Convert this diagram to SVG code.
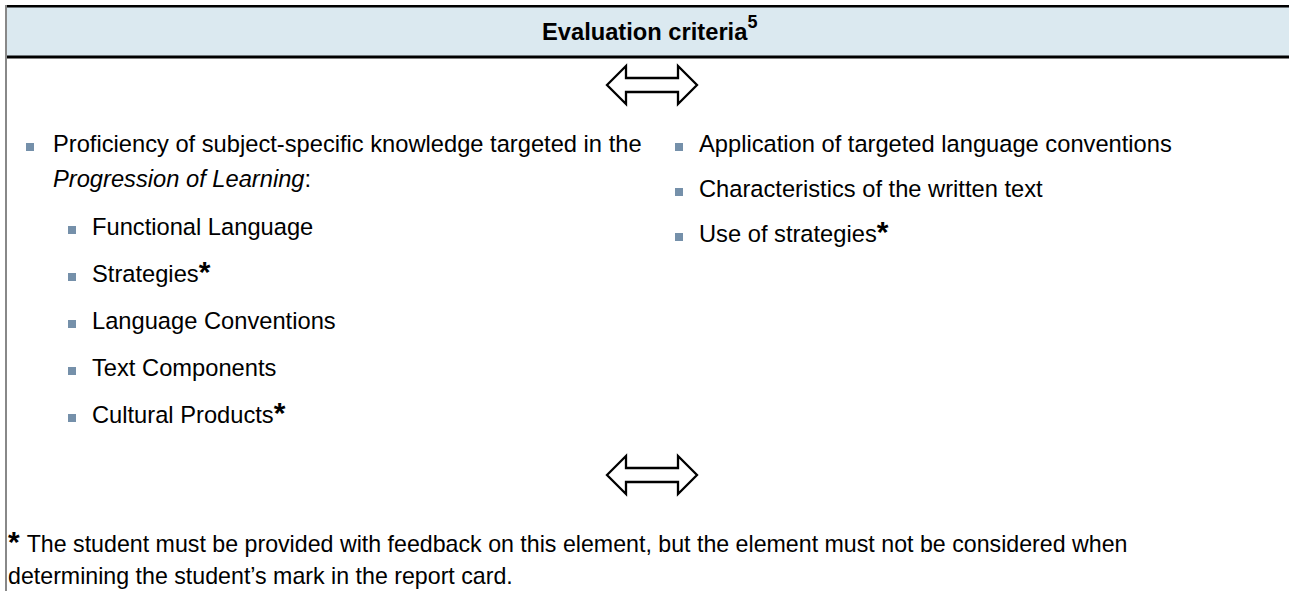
<svg xmlns="http://www.w3.org/2000/svg" width="1289" height="591" viewBox="0 0 1289 591">
<style>
.t{font-family:"Liberation Sans",Arial,sans-serif;font-size:23.7px;fill:#000}
.f{font-size:23.2px}
.b{font-weight:bold}
.ast{font-family:"Liberation Sans",Arial,sans-serif;font-size:30px;font-weight:bold;fill:#000}
.bul{fill:#7590aa}
.arr{fill:#fff;stroke:#000;stroke-width:2.3;stroke-linejoin:miter}
</style>
<rect x="0" y="0" width="1289" height="591" fill="#fff"/>
<g id="header">
<rect x="6" y="7" width="1283" height="49" fill="#dbe9f0"/>
<rect x="5" y="5" width="1284" height="2.5" fill="#000"/>
<rect x="5" y="55.5" width="1284" height="3" fill="#000"/>
<text class="t b" x="542" y="40" font-size="23.4">Evaluation criteria<tspan font-size="18" dy="-12">5</tspan></text>
</g>
<rect x="5" y="5" width="2" height="586" fill="#888"/>
<g id="connectors">
<path class="arr" d="M607,85 L626,66 L626,78 L678,78 L678,66 L697,85 L678,104 L678,92 L626,92 L626,104 Z"/>
<path class="arr" d="M607,475 L626,456 L626,468 L678,468 L678,456 L697,475 L678,494 L678,482 L626,482 L626,494 Z"/>
</g>
<g id="left-column">
<rect class="bul" x="26" y="143" width="8" height="8"/>
<text class="t" x="53" y="152">Proficiency of subject-specific knowledge targeted in the</text>
<text class="t" x="53" y="187"><tspan font-style="italic">Progression of Learning</tspan>:</text>
<rect class="bul" x="68" y="226" width="8" height="8"/>
<text class="t" x="92" y="235">Functional Language</text>
<rect class="bul" x="68" y="273" width="8" height="8"/>
<text class="t" x="92" y="282">Strategies<tspan class="ast">*</tspan></text>
<rect class="bul" x="68" y="320" width="8" height="8"/>
<text class="t" x="92" y="329">Language Conventions</text>
<rect class="bul" x="68" y="367" width="8" height="8"/>
<text class="t" x="92" y="376">Text Components</text>
<rect class="bul" x="68" y="414" width="8" height="8"/>
<text class="t" x="92" y="423">Cultural Products<tspan class="ast">*</tspan></text>
</g>
<g id="right-column">
<rect class="bul" x="675" y="143" width="8" height="8"/>
<text class="t" x="699" y="152">Application of targeted language conventions</text>
<rect class="bul" x="675" y="188" width="8" height="8"/>
<text class="t" x="699" y="197">Characteristics of the written text</text>
<rect class="bul" x="675" y="233" width="8" height="8"/>
<text class="t" x="699" y="242">Use of strategies<tspan class="ast">*</tspan></text>
</g>
<g id="footnote">
<text class="t f" x="8" y="552"><tspan class="ast" font-size="26">*</tspan><tspan dx="7">The student must be provided with feedback on this element, but the element must not be considered when</tspan></text>
<text class="t f" x="8" y="584">determining the student’s mark in the report card.</text>
</g>
</svg>
